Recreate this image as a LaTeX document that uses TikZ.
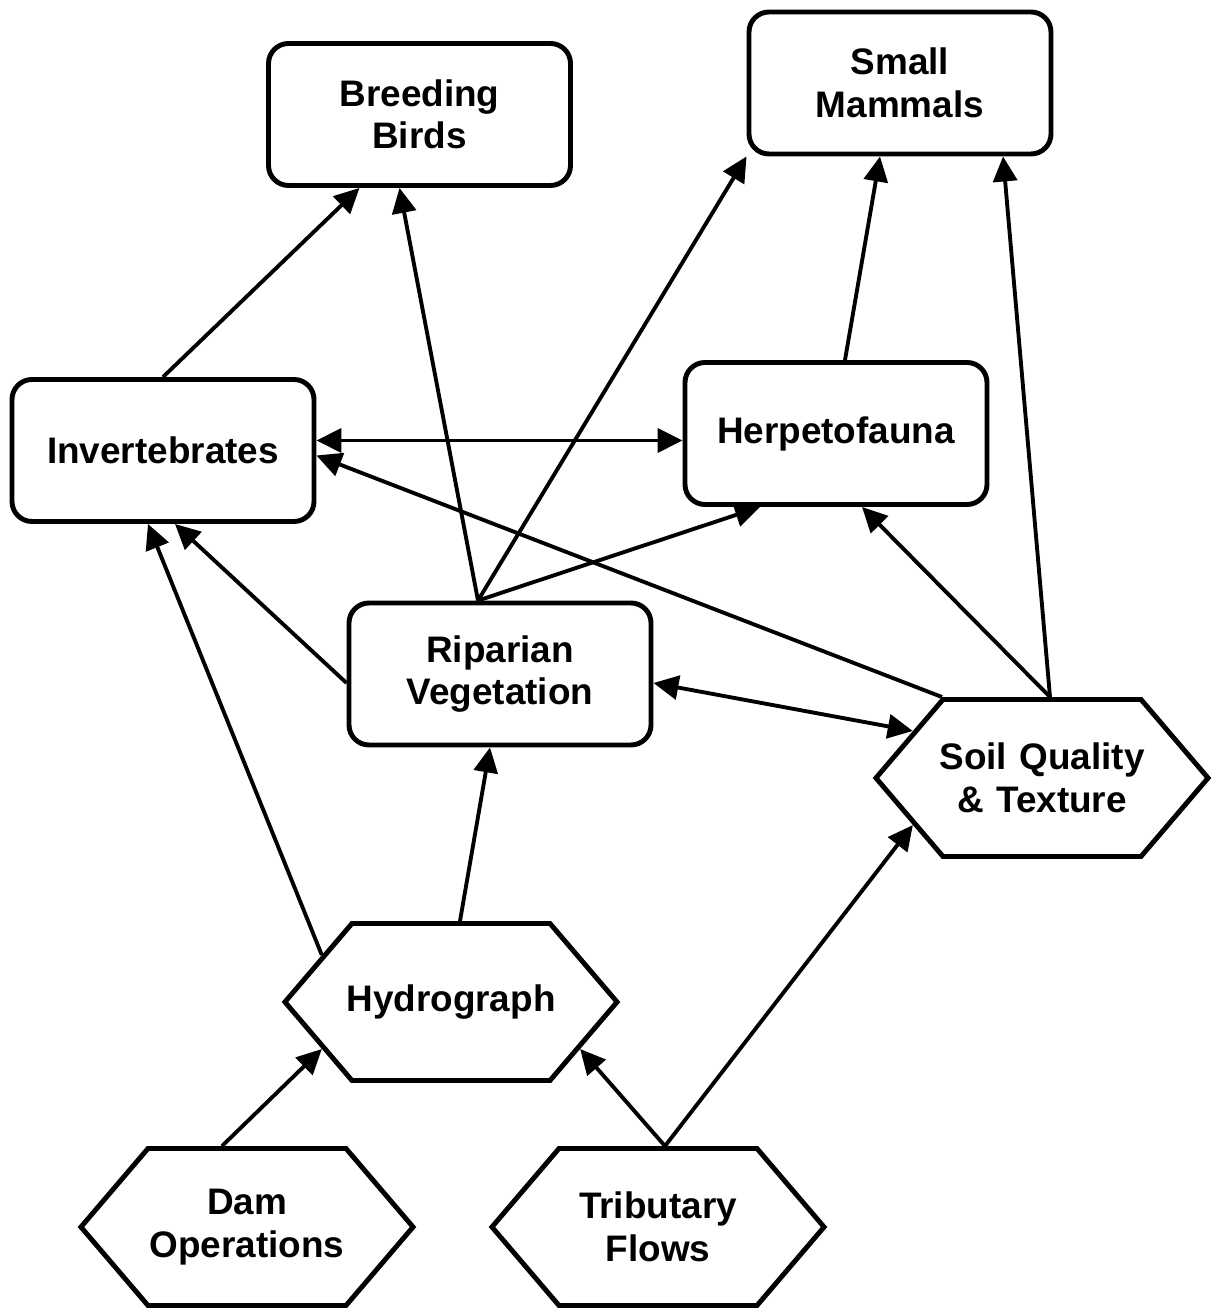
\documentclass[tikz,border=0pt]{standalone}
\usepackage{fontspec}
\setmainfont{Liberation Sans}
\usetikzlibrary{positioning, arrows.meta, shapes.symbols}

\begin{document}
\begin{tikzpicture}[
    >={Triangle[length=0.25cm, width=0.24cm]},
    font=\bfseries\fontsize{10.5pt}{12.1pt}\selectfont,
    box/.style={draw, line width=1.4pt, rounded corners=0.2cm, align=center,
        minimum width=3.02cm, minimum height=1.42cm},
    hexa/.style={draw, line width=1.4pt, signal, signal to=east and west,
        signal pointer angle=99, align=center, text width=2.1cm,
        inner xsep=-0.06cm, minimum height=1.57cm},
    link/.style={line width=1.1pt},
]

\useasboundingbox (0,0) rectangle (12.12,13.10);

% --- Species groups ---
\node[box] (bb)   at (4.195, 11.955) {Breeding\\Birds};
\node[box] (sm)   at (9.00, 12.27)   {Small\\Mammals};
\node[box] (inv)  at (1.63, 8.595)   {Invertebrates};
\node[box] (herp) at (8.36, 8.765)   {Herpetofauna};
\node[box] (rip)  at (5.00, 6.36)    {Riparian\\Vegetation};

% --- Drivers ---
\node[hexa] (soil)  at (10.42, 5.32) {Soil Quality\\\& Texture};
\node[hexa] (hydro) at (4.51, 3.08)  {Hydrograph};
\node[hexa] (dam)   at (2.47, 0.83)  {Dam\\Operations};
\node[hexa] (trib)  at (6.58, 0.83)  {Tributary\\Flows};

% --- Links into the birds and mammals ---
\draw[link, ->] (inv.north) -- ([xshift=-0.6cm]bb.south);
\draw[link, ->] ([xshift=-0.22cm]rip.north) -- ([xshift=-0.2cm]bb.south);
\draw[link, ->] ([xshift=-0.22cm]rip.north) -- (sm.south west);
\draw[link, ->] ([xshift=0.09cm]herp.north) -- ([xshift=-0.2cm]sm.south);
\draw[link, ->] ([xshift=0.08cm]soil.north) -- ([xshift=1.03cm]sm.south);

% --- Middle layer ---
\draw[link, <->] ([yshift=0.1cm]inv.east) -- ([yshift=0.1cm]inv.east -| herp.west);
\draw[link, ->] ([xshift=-1.0cm]soil.north) -- ([yshift=-0.05cm]inv.east);
\draw[link, ->] ([xshift=0.08cm]soil.north) -- ([xshift=0.26cm]herp.south);
\draw[link, ->] ([xshift=-0.22cm]rip.north) -- ([xshift=-0.76cm]herp.south);
\draw[link, ->] ([yshift=-0.09cm]rip.west) -- ([xshift=0.12cm]inv.south);
\draw[link, <->] ([yshift=-0.09cm]rip.east) -- (soil.160);

% --- Flow drivers ---
\draw[link, ->] ([xshift=0.09cm]hydro.north) -- ([xshift=-0.1cm]rip.south);
\draw[link, ->] (hydro.160) -- ([xshift=-0.15cm]inv.south);
\draw[link, ->] ([xshift=-0.25cm]dam.north) -- (hydro.200);
\draw[link, ->] ([xshift=0.07cm]trib.north) -- (hydro.340);
\draw[link, ->] ([xshift=0.07cm]trib.north) -- (soil.200);

\end{tikzpicture}
\end{document}
